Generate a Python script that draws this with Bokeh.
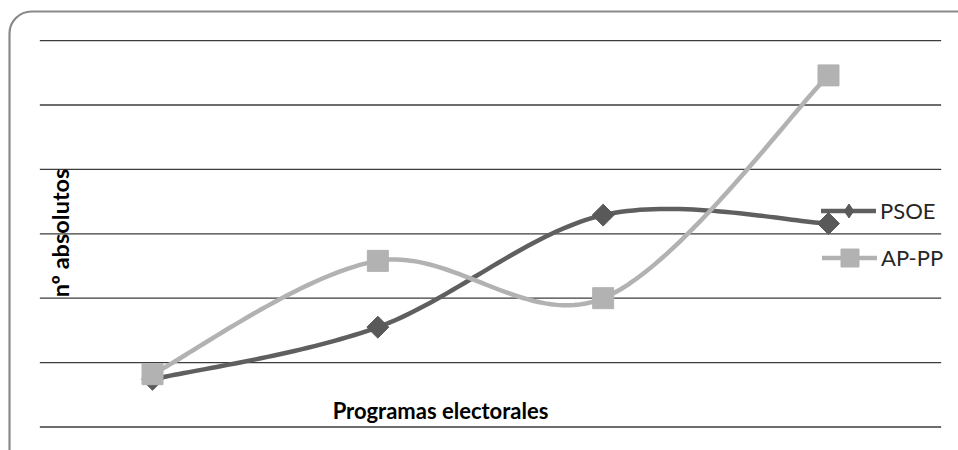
import numpy as np
from bokeh.plotting import figure
from bokeh.models import Range1d, Legend, LegendItem, Label, BoxAnnotation
from bokeh.embed import file_html
from bokeh.resources import INLINE

# ---- data ----
categories = ["1", "2", "3", "4"]          # unlabeled category slots
x_pos = [0, 1, 2, 3]
psoe = [3.7, 7.75, 16.45, 15.8]
appp = [4.1, 12.9, 10.0, 27.3]
grid_ticks = [0, 5, 10, 15, 20, 25, 30]
series_names = ["PSOE", "AP-PP"]
x_title = "Programas electorales"
y_title = "nº absolutos"

# ---- layout ----
W, H = 958, 450
px_x = 225.33      # px per category
x0_px = 152.0      # frame px of first category
px_y = 12.88       # px per value unit
y0_px = 23.5       # frame px (from bottom) of value 0

p = figure(width=W, height=H,
           x_range=Range1d(-x0_px / px_x, (W - x0_px) / px_x),
           y_range=Range1d(-y0_px / px_y, (H - y0_px) / px_y),
           x_axis_type=None, y_axis_type=None,
           toolbar_location=None, output_backend="svg", min_border=0)
p.outline_line_color = None
p.background_fill_color = "white"
p.border_fill_color = "white"


def smooth(xs, ys, n=40):
    """Excel-like smoothed line (Catmull-Rom as cubic Bezier)."""
    P = np.column_stack([xs, ys]).astype(float)
    m = len(P)
    outx, outy = [], []
    t = np.linspace(0, 1, n)
    for i in range(m - 1):
        p0 = P[i]
        p3 = P[i + 1]
        pm = P[i - 1] if i > 0 else P[i]
        pp = P[i + 2] if i + 2 < m else P[i + 1]
        c1 = p0 + (p3 - pm) / 6.0
        c2 = p3 - (pp - p0) / 6.0
        b = ((1 - t) ** 3)[:, None] * p0 + (3 * (1 - t) ** 2 * t)[:, None] * c1 \
            + (3 * (1 - t) * t ** 2)[:, None] * c2 + (t ** 3)[:, None] * p3
        if i > 0:
            b = b[1:]
        outx.extend(b[:, 0]); outy.extend(b[:, 1])
    return outx, outy


# gridlines across the category span
p.segment(x0=x_pos[0] - 0.5, x1=x_pos[-1] + 0.5, y0=grid_ticks, y1=grid_ticks,
          line_color="#3c3c3c", line_width=1.3)

dark = "#5f5f5f"
light = "#b2b2b2"

sx, sy = smooth(x_pos, psoe)
l1 = p.line(sx, sy, line_color=dark, line_width=4.5, line_cap="round", line_join="round")
p.scatter(x_pos, psoe, marker="square", angle=np.pi / 4, size=15.5,
          fill_color="#595959", line_color="#595959")
d1 = p.scatter(x_pos, psoe, marker="diamond", size=0,
               fill_color="#595959", line_color="#595959")

sx2, sy2 = smooth(x_pos, appp)
l2 = p.line(sx2, sy2, line_color=light, line_width=4.5, line_cap="round", line_join="round")
p.scatter(x_pos, appp, marker="square", size=21, fill_color=light, line_color=light)
d2 = p.scatter(x_pos, appp, marker="square", size=0, fill_color=light, line_color=light)

common = dict(padding=0, margin=0, spacing=0, border_line_color=None,
              background_fill_alpha=0, label_text_font="Lato",
              label_text_font_size="22px", label_text_color="#262626",
              glyph_width=55, label_standoff=4)
leg1 = Legend(items=[LegendItem(label=series_names[0], renderers=[l1, d1])],
              location=(821, 222), glyph_height=35, label_height=35, **common)
leg2 = Legend(items=[LegendItem(label=series_names[1], renderers=[l2, d2])],
              location=(822, 170.5), glyph_height=45, label_height=45, **common)
p.add_layout(leg1)
p.add_layout(leg2)

# axis titles
p.add_layout(Label(x=440, y=40, x_units="screen", y_units="screen", text=x_title,
                   text_align="center", text_baseline="alphabetic",
                   text_font="Lato", text_font_style="bold", text_font_size="22px",
                   text_color="#000000"))
p.add_layout(Label(x=59, y=217.5, x_units="screen", y_units="screen", text=y_title,
                   angle=np.pi / 2, text_align="center", text_baseline="alphabetic",
                   text_font="Lato", text_font_style="bold", text_font_size="23.5px",
                   text_color="#000000"))

# rounded chart border
p.add_layout(BoxAnnotation(left=9, right=W + 30, bottom=-30, top=439,
                           left_units="screen", right_units="screen",
                           bottom_units="screen", top_units="screen",
                           fill_color=None, fill_alpha=0,
                           line_color="#8a8a8a", line_alpha=1.0, line_width=2.2,
                           border_radius=22))

open("out.html", "w").write(file_html(p, INLINE))
